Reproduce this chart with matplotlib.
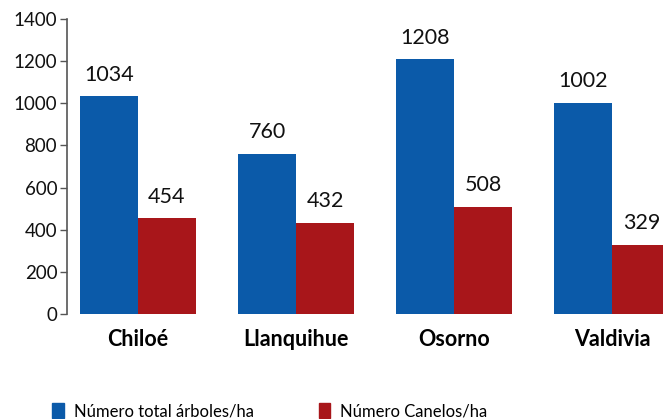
import matplotlib.pyplot as plt
from matplotlib.patches import Patch
import numpy as np

plt.rcParams["font.family"] = ["Lato", "DejaVu Sans"]

regions = ["Chiloé", "Llanquihue", "Osorno", "Valdivia"]
total_trees = [1034, 760, 1208, 1002]
canelos = [454, 432, 508, 329]
series_names = ["Número total árboles/ha", "Número Canelos/ha"]

BLUE = "#0b5aa9"
RED = "#a8161a"

fig = plt.figure(figsize=(6.63, 4.19), dpi=100)
ax = fig.add_axes([0.101, 0.2506, 0.899, 0.7041])

x = np.arange(len(regions))
w = 0.367
b1 = ax.bar(x - w / 2, total_trees, width=w, color=BLUE)
b2 = ax.bar(x + w / 2, canelos, width=w, color=RED)

for bars, vals in ((b1, total_trees), (b2, canelos)):
    for bar, v in zip(bars, vals):
        ax.text(bar.get_x() + bar.get_width() / 2, v + 55, str(v),
                ha="center", va="bottom", fontsize=15.5, color="#111111")

ax.set_ylim(0, 1400)
ax.set_xlim(-0.449, 3.32)
ax.set_yticks(range(0, 1401, 200))
ax.set_xticks(x)
ax.set_xticklabels(regions, fontsize=15.5, fontweight="bold")
ax.tick_params(axis="y", labelsize=13.5, length=5, width=1, color="#555555",
               pad=2, labelcolor="#111111")
ax.tick_params(axis="x", length=0, pad=11)

for side in ("top", "right", "bottom"):
    ax.spines[side].set_visible(False)
ax.spines["left"].set_color("#555555")
ax.spines["left"].set_linewidth(1.2)

handles = [Patch(color=BLUE), Patch(color=RED)]
fig.legend(handles, series_names, loc="center left",
           bbox_to_anchor=(52 / 663, 8 / 419), ncol=2, frameon=False,
           fontsize=12, handlelength=0.7, handleheight=1.0,
           handletextpad=0.6, columnspacing=3.9, borderpad=0,
           borderaxespad=0)

fig.savefig("out.png", dpi=100)
